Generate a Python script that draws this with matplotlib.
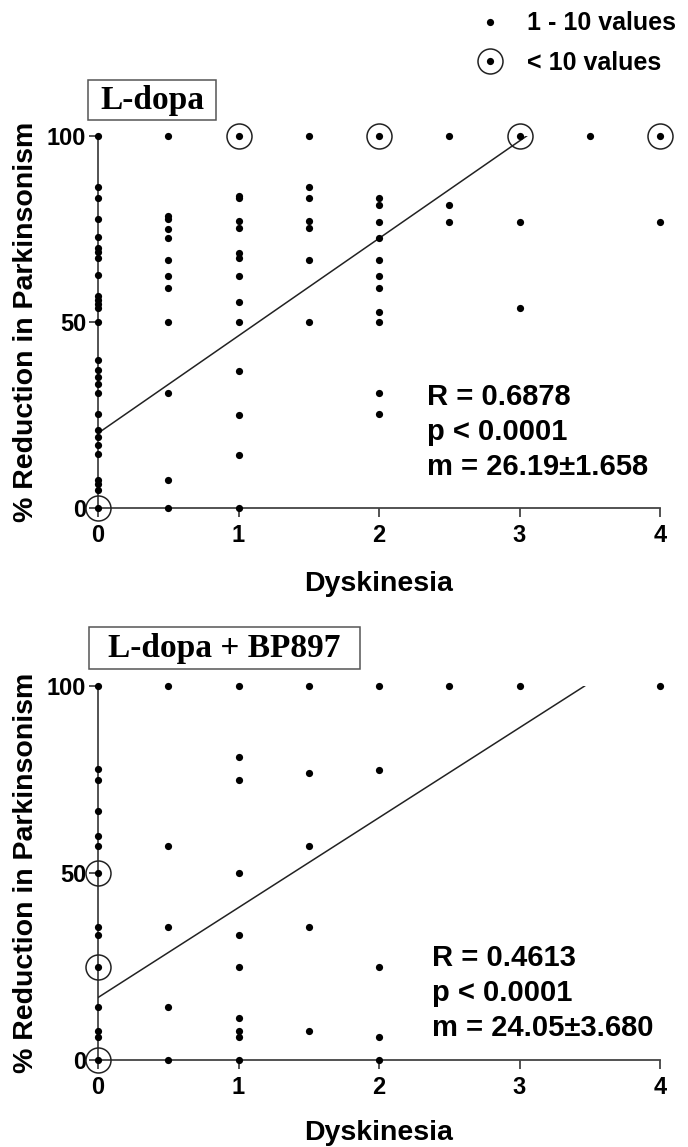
import numpy as np
import matplotlib.pyplot as plt
from matplotlib.lines import Line2D
from matplotlib.patches import Rectangle

# =====================================================
# DATA
# =====================================================
# L-dopa panel: dyskinesia score -> % reduction in parkinsonism
ldopa_x = (
    [0] * 28 + [0.5] * 12 + [1] * 14 + [1.5] * 7 + [2] * 12
    + [2.5] * 3 + [3] * 3 + [3.5] + [4] * 2
)
ldopa_y = [
    # x = 0
    100, 86.3, 83.4, 77.7, 72.8, 69.9, 68.7, 67.1, 62.7, 57.1, 56.0, 54.9,
    53.7, 50, 39.9, 37.0, 35.2, 33.2, 31.0, 25.2, 21.0, 19.2, 16.9, 14.4,
    7.6, 6.5, 4.9, 0,
    # x = 0.5
    100, 78.6, 77.7, 74.9, 72.6, 66.8, 62.5, 59.1, 50, 31.0, 7.6, 0,
    # x = 1
    100, 83.9, 83.2, 77.2, 75.2, 68.5, 67.1, 62.5, 55.3, 50, 36.9, 25.0,
    14.3, 0,
    # x = 1.5
    100, 86.3, 83.2, 77.2, 75.2, 66.8, 50,
    # x = 2
    100, 83.2, 81.4, 77.0, 72.6, 66.8, 62.5, 59.1, 52.6, 50, 30.9, 25.2,
    # x = 2.5
    100, 81.4, 77.0,
    # x = 3
    100, 77.0, 53.7,
    # x = 3.5
    100,
    # x = 4
    100, 77.0,
]
ldopa_circ_x = [0, 1, 2, 3, 4]
ldopa_circ_y = [0, 100, 100, 100, 100]
ldopa_fit = (20.1, 26.19)   # intercept, slope
ldopa_stats = ["R = 0.6878", "p < 0.0001", "m = 26.19\u00b11.658"]

# L-dopa + BP897 panel
bp_x = (
    [0] * 14 + [0.5] * 5 + [1] * 10 + [1.5] * 5 + [2] * 5
    + [2.5] + [3] + [4]
)
bp_y = [
    # x = 0
    100, 77.7, 75.0, 66.5, 60.0, 57.1, 50, 35.6, 33.3, 25.0, 14.2, 7.7, 6.1, 0,
    # x = 0.5
    100, 57.1, 35.6, 14.2, 0,
    # x = 1
    100, 81.1, 75.0, 50, 33.3, 25.0, 11.1, 7.7, 6.1, 0,
    # x = 1.5
    100, 76.8, 57.1, 35.6, 7.7,
    # x = 2
    100, 77.5, 25.0, 6.1, 0,
    # x = 2.5, 3, 4
    100, 100, 100,
]
bp_circ_x = [0, 0, 0]
bp_circ_y = [50, 25, 0]
bp_fit = (16.7, 24.05)
bp_stats = ["R = 0.4613", "p < 0.0001", "m = 24.05\u00b13.680"]

x_ticks = [0, 1, 2, 3, 4]
y_ticks = [0, 50, 100]

# =====================================================
# FIGURE
# =====================================================
W, H = 688, 1147
fig = plt.figure(figsize=(W / 100, H / 100), dpi=100)
plt.rcParams['font.family'] = ['Liberation Sans', 'DejaVu Sans']
plt.rcParams['font.weight'] = 'bold'

SPINE = '#444444'


def fx(px):
    return px / W


def fy(py):
    return 1 - py / H


def panel(rect, xs, ys, cx, cy, fit, stats, stat_pos, title, title_box):
    ax = fig.add_axes(rect)
    ax.plot(xs, ys, 'o', color='black', ms=5.2, mew=0, clip_on=False, zorder=4)
    ax.plot(cx, cy, 'o', mfc='none', mec='#222222', ms=18, mew=1.1,
            clip_on=False, zorder=4)

    # regression line, drawn up to where it reaches 100 %
    b, m = fit
    x_end = (100 - b) / m
    xl = np.array([0, x_end])
    ax.plot(xl, b + m * xl, color='#222222', lw=1.1, zorder=3)

    ax.set_xlim(0, 4)
    ax.set_ylim(0, 100)
    ax.set_xticks(x_ticks)
    ax.set_yticks(y_ticks)
    for s in ['top', 'right']:
        ax.spines[s].set_visible(False)
    for s in ['left', 'bottom']:
        ax.spines[s].set_color(SPINE)
        ax.spines[s].set_linewidth(1.3)
    ax.tick_params(axis='both', direction='out', length=6.5, width=1.3,
                   color=SPINE, labelsize=17)
    ax.tick_params(axis='y', pad=2)
    ax.tick_params(axis='x', pad=5)

    ax.set_xlabel("Dyskinesia", fontsize=20.5, fontweight='bold')
    ax.set_ylabel("% Reduction in Parkinsonism", fontsize=20.5,
                  fontweight='bold')
    ax.yaxis.set_label_coords(-0.105, 0.5)

    fig.text(fx(stat_pos[0]), fy(stat_pos[1]), "\n".join(stats),
             fontsize=21, fontweight='bold', va='center', ha='left',
             linespacing=1.3)

    x0, y0, x1, y1 = title_box
    fig.patches.append(Rectangle((fx(x0), fy(y1)), fx(x1 - x0), (y1 - y0) / H,
                                 transform=fig.transFigure, fill=False,
                                 edgecolor='#555555', lw=1.1))
    fig.text(fx((x0 + x1) / 2), fy((y0 + y1) / 2 + 1), title,
             family=['Liberation Serif', 'DejaVu Serif'], fontsize=24,
             fontweight='bold', ha='center', va='center')
    return ax


ax1 = panel([fx(98), fy(508), fx(660 - 98), (508 - 136) / H],
            ldopa_x, ldopa_y, ldopa_circ_x, ldopa_circ_y, ldopa_fit,
            ldopa_stats, (427, 432), "L-dopa", (88, 80, 216, 120))
ax1.xaxis.set_label_coords(0.5, -0.17)

ax2 = panel([fx(98), fy(1060), fx(660 - 98), (1060 - 686) / H],
            bp_x, bp_y, bp_circ_x, bp_circ_y, bp_fit,
            bp_stats, (432, 993), "L-dopa + BP897", (89, 627, 360, 669))
ax2.xaxis.set_label_coords(0.5, -0.16)

# legend (top right)
dot = Line2D([], [], ls='none', marker='o', color='black', ms=5.2, mew=0)
circ = Line2D([], [], ls='none', marker='o', mfc='none', mec='#222222',
              ms=18, mew=1.1)
fig.legend(handles=[dot, (dot, circ)], labels=["1 - 10 values", "< 10 values"],
           loc='upper left', bbox_to_anchor=(fx(462), fy(-1)), frameon=False,
           handlelength=1.2, handletextpad=0.9, labelspacing=0.6,
           borderpad=0, prop={'weight': 'bold', 'size': 18})

fig.savefig("out.png", dpi=100)
